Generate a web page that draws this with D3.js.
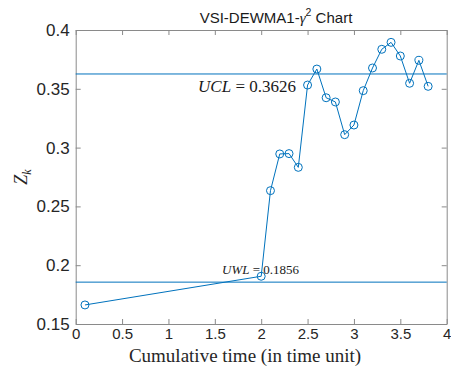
<!DOCTYPE html>
<html><head><meta charset="utf-8">
<script src="https://cdn.jsdelivr.net/npm/d3@7"></script>
<style>body{margin:0;background:#fff}svg{display:block}</style>
</head><body>
<svg id="c" width="451" height="374"></svg>
<script>
const times = [0.1, 2.0, 2.1, 2.2, 2.3, 2.4, 2.5, 2.6, 2.7, 2.8, 2.9, 3.0, 3.1, 3.2, 3.3, 3.4, 3.5, 3.6, 3.7, 3.8];
const zk = [0.1662, 0.1906, 0.2634, 0.2946, 0.2949, 0.2832, 0.3532, 0.3668, 0.3424, 0.3388, 0.311, 0.3192, 0.3484, 0.3677, 0.3836, 0.3895, 0.3779, 0.3547, 0.3742, 0.3521];
const xTicks = [0, 0.5, 1, 1.5, 2, 2.5, 3, 3.5, 4];
const yTicks = [0.15, 0.2, 0.25, 0.3, 0.35, 0.4];
const UCL = 0.3626, UWL = 0.1856;

const L = 75.7, R = 446.7, T = 30, B = 324;
const svg = d3.select("#c");
const x = d3.scaleLinear().domain([0, 4]).range([L, R]);
const y = d3.scaleLinear().domain([0.15, 0.4]).range([B, T]);
const blue = "#0072BD", axc = "#8a8a8a";

const axisStyle = g => {
  g.selectAll(".domain").attr("stroke", axc);
  g.selectAll(".tick line").attr("stroke", axc);
  g.selectAll(".tick text").attr("fill", "#262626").style("font-family", "Arial, 'Liberation Sans', sans-serif");
};
svg.append("g").attr("transform", `translate(0,${B})`)
  .call(d3.axisBottom(x).tickValues(xTicks).tickSize(-5).tickSizeOuter(0).tickPadding(4).tickFormat(d3.format("")))
  .call(axisStyle).call(g => g.selectAll(".tick text").style("font-size", "15px"));
svg.append("g").attr("transform", `translate(0,${T})`)
  .call(d3.axisTop(x).tickValues(xTicks).tickSize(-5).tickSizeOuter(0).tickFormat(""))
  .call(axisStyle);
svg.append("g").attr("transform", `translate(${L},0)`)
  .call(d3.axisLeft(y).tickValues(yTicks).tickSize(-5).tickSizeOuter(0).tickPadding(6).tickFormat(d3.format("")))
  .call(axisStyle).call(g => g.selectAll(".tick text").style("font-size", "17px"));
svg.append("g").attr("transform", `translate(${R},0)`)
  .call(d3.axisRight(y).tickValues(yTicks).tickSize(-5).tickSizeOuter(0).tickFormat(""))
  .call(axisStyle);

[UCL, UWL].forEach(v => svg.append("line").attr("x1", L).attr("x2", R)
  .attr("y1", y(v)).attr("y2", y(v)).attr("stroke", blue).attr("stroke-width", 1));

const pts = times.map((t, i) => [t, zk[i]]);
svg.append("path").datum(pts)
  .attr("d", d3.line().x(d => x(d[0])).y(d => y(d[1])))
  .attr("fill", "none").attr("stroke", blue).attr("stroke-width", 1);
svg.selectAll("circle.m").data(pts).enter().append("circle")
  .attr("cx", d => x(d[0])).attr("cy", d => y(d[1])).attr("r", 4)
  .attr("fill", "none").attr("stroke", blue).attr("stroke-width", 1);

const lib = "'Liberation Serif', 'DejaVu Serif', serif";
const ucl = svg.append("text").attr("x", 296).attr("y", 92).attr("text-anchor", "end")
  .style("font-family", lib).style("font-size", "17px").attr("fill", "#1a1a1a");
ucl.append("tspan").style("font-style", "italic").text("UCL");
ucl.append("tspan").text(" = 0.3626");
const uwl = svg.append("text").attr("x", 222).attr("y", 274)
  .style("font-family", lib).style("font-size", "13px").attr("fill", "#1a1a1a");
uwl.append("tspan").style("font-style", "italic").text("UWL");
uwl.append("tspan").text(" = 0.1856");

const title = svg.append("text").attr("x", 276).attr("y", 23).attr("text-anchor", "middle")
  .style("font-family", "Arial, 'Liberation Sans', sans-serif").style("font-size", "15px").attr("fill", "#1a1a1a");
title.append("tspan").text("VSI-DEWMA1-");
title.append("tspan").style("font-family", lib).style("font-style", "italic").text("γ");
title.append("tspan").attr("dy", -7).style("font-size", "10.5px").text("2");
title.append("tspan").attr("dy", 7).text(" Chart");

svg.append("text").attr("x", 245).attr("y", 362).attr("text-anchor", "middle")
  .style("font-family", lib).style("font-size", "19px").attr("fill", "#262626")
  .text("Cumulative time (in time unit)");

const yl = svg.append("text").attr("transform", `translate(27,${(T + B) / 2}) rotate(-90)`).attr("text-anchor", "middle")
  .style("font-family", lib).style("font-size", "18px").attr("fill", "#262626");
yl.append("tspan").style("font-style", "italic").text("Z");
yl.append("tspan").attr("dy", 4).style("font-size", "12px").style("font-style", "italic").text("k");
</script>
</body></html>
